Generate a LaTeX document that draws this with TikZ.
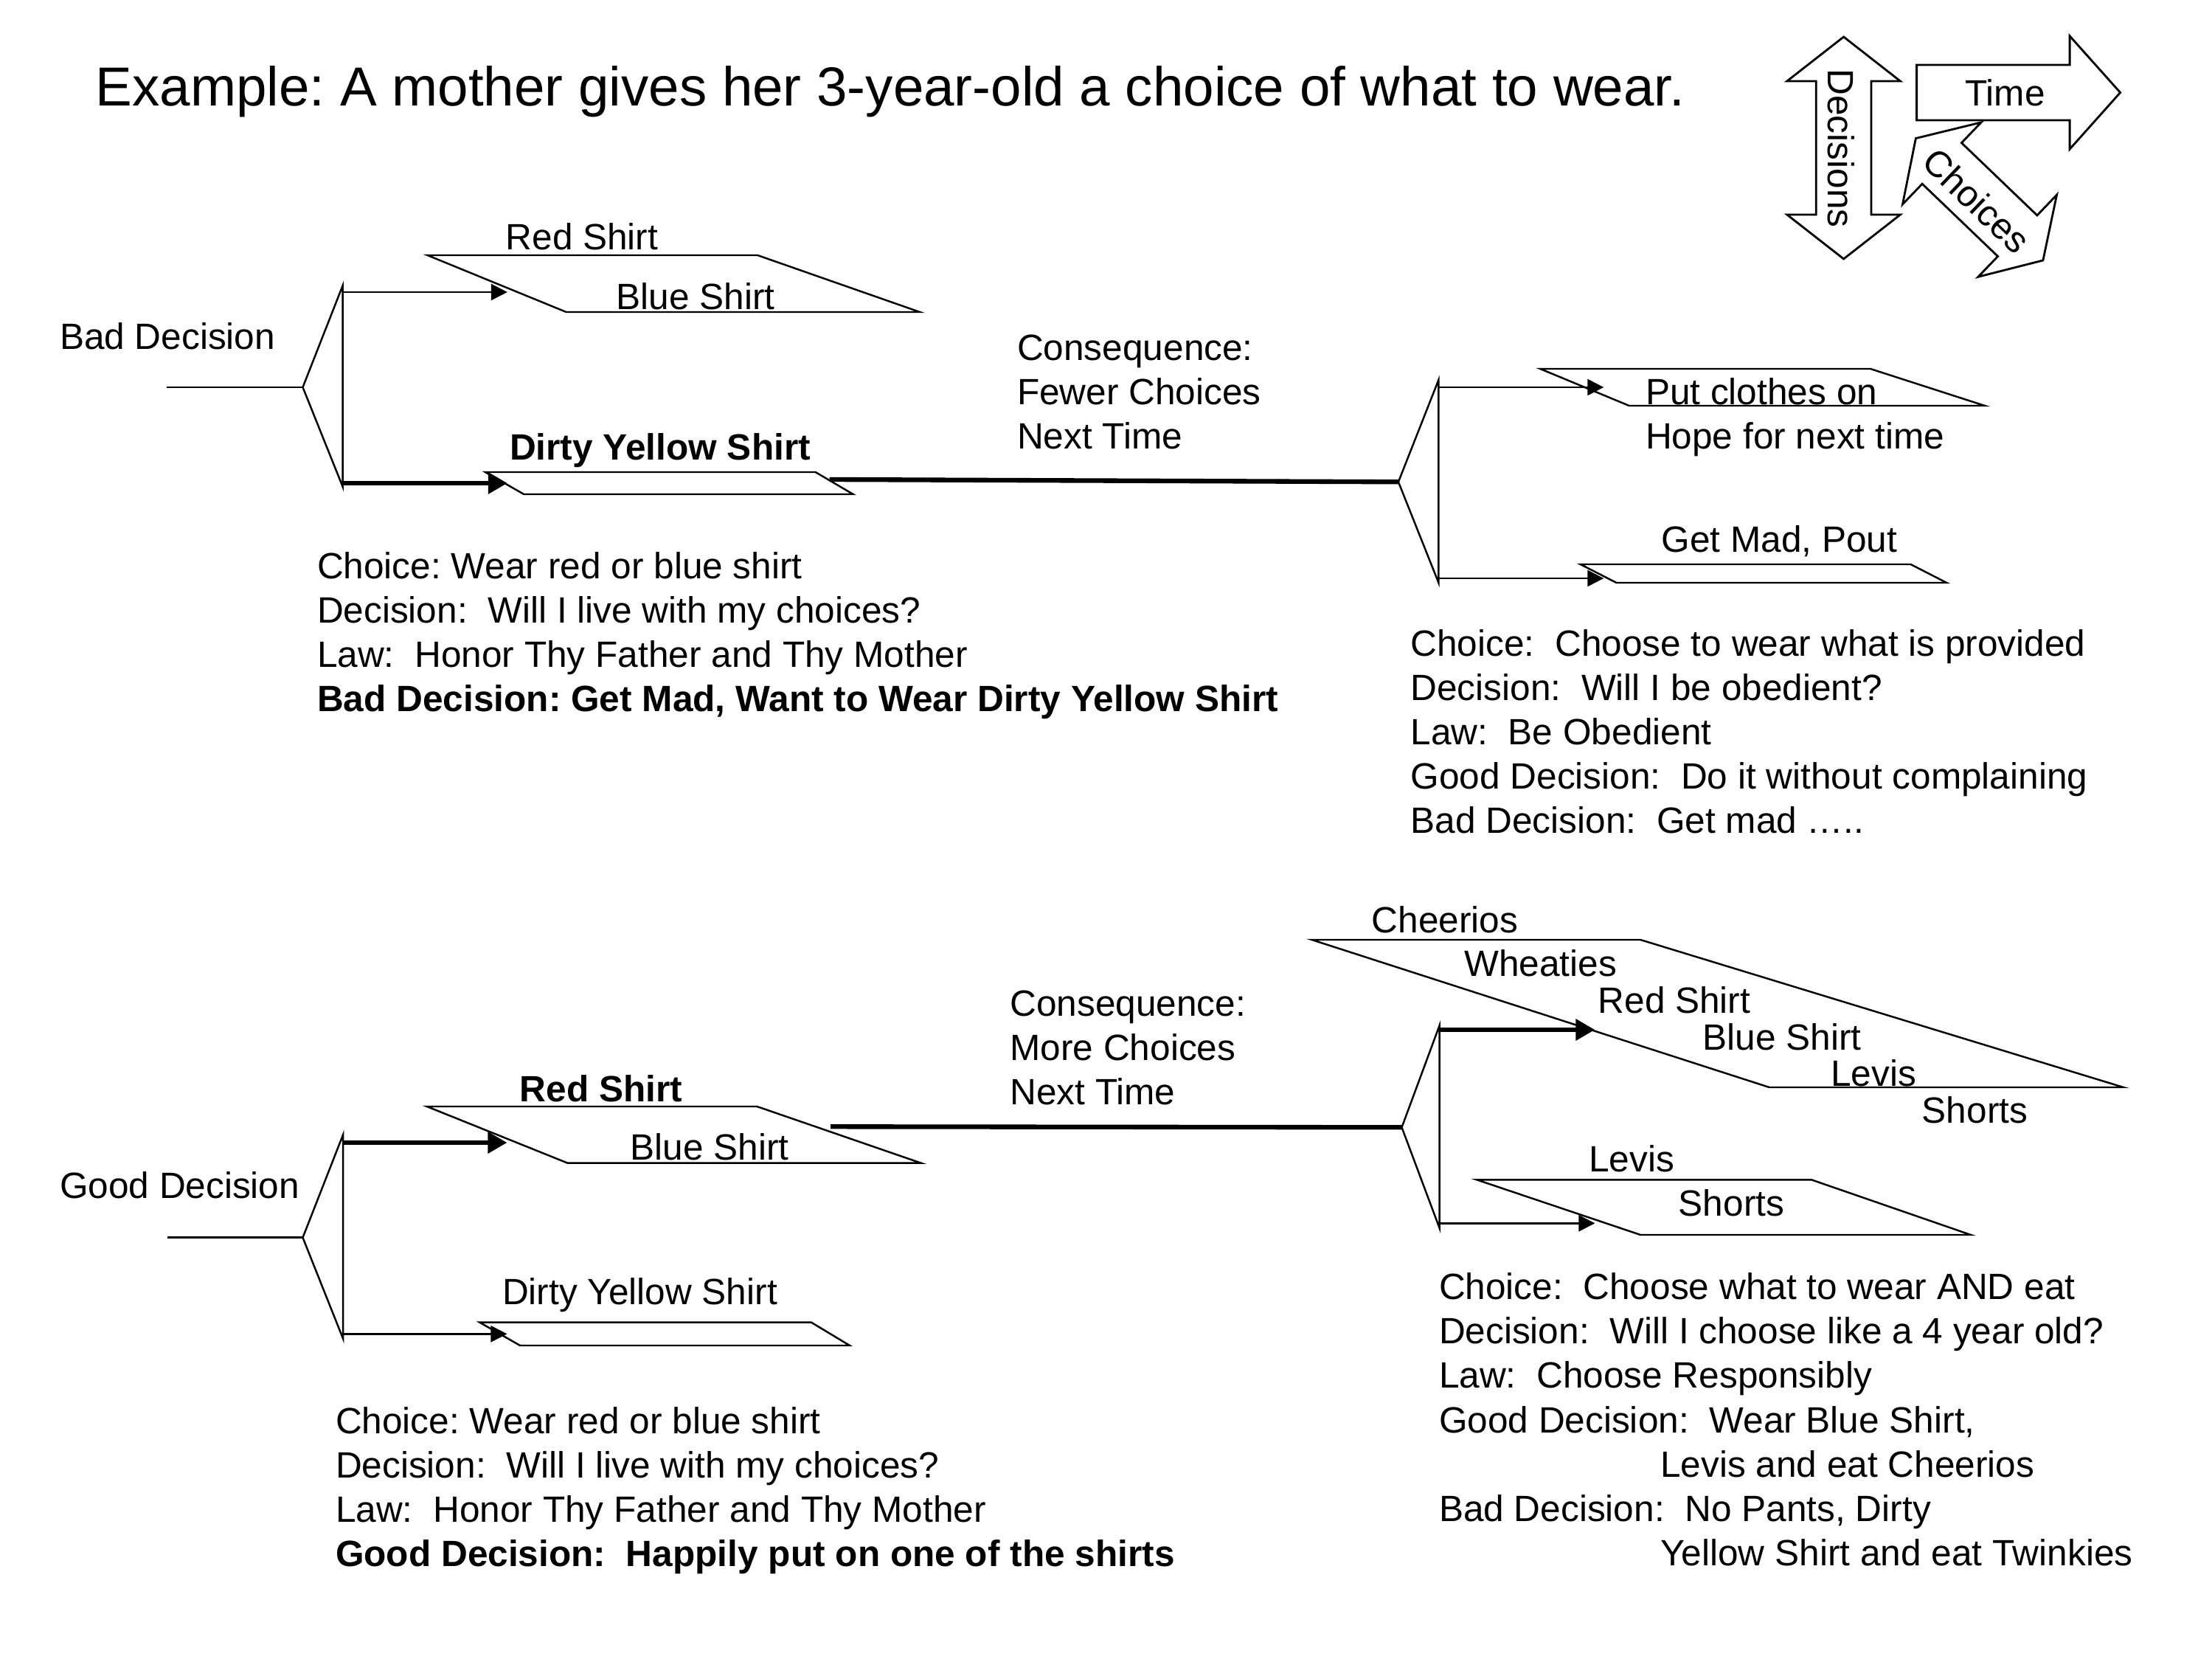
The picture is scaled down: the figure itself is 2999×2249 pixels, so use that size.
\documentclass[tikz,border=0pt]{standalone}
\usepackage{fontspec}
\setmainfont{Liberation Sans}
\usetikzlibrary{arrows.meta}
\frenchspacing
\begin{document}
\begin{tikzpicture}[x=0.01cm, y=-0.01cm,
  txt/.style={font=\fontsize{14.1}{17.07}\selectfont, inner sep=0pt, outer sep=0pt},
  blk/.style={txt, align=left, anchor=north west},
  lbl/.style={txt, anchor=base},
  thinln/.style={line width=0.7pt, line join=miter},
  thickln/.style={line width=1.8pt},
  para/.style={line width=0.7pt, line join=miter},
  tarrow/.style={thinln, -{Triangle[length=0.22cm,width=0.22cm]}},
  karrow/.style={thickln, -{Triangle[length=0.26cm,width=0.28cm]}},
  legend/.style={line width=0.8pt, line join=miter, fill=white},
]
\useasboundingbox (0,0) rectangle (2999,2249);

% title
\node[font=\fontsize{21.2}{25}\selectfont, anchor=base west, inner sep=0pt] (title) at (129,143.5) {Example: A mother gives her 3-year-old a choice of what to wear.};

% ---------- legend ----------
\begin{scope}[shift={(2499.6,200.5)}, rotate=-90]
  \draw[legend] (-150.5,0) -- (-90.5,-76.8) -- (-90.5,-37.3) -- (90.5,-37.3) -- (90.5,-76.8) -- (150.5,0) -- (90.5,76.8) -- (90.5,37.3) -- (-90.5,37.3) -- (-90.5,76.8) -- cycle;
\end{scope}
\node[txt, rotate=-90] (decisions) at (2496,201) {Decisions};
\draw[legend] (2598.6,88) -- (2806.1,88) -- (2806.1,48.8) -- (2874.6,125.5) -- (2806.1,202.2) -- (2806.1,163) -- (2598.6,163) -- cycle;
\node[txt] (time) at (2718.6,126) {Time};
\begin{scope}[shift={(2684,270.6)}, rotate=-43.8]
  \draw[legend] (-120,0) -- (-71,-77) -- (-71,-38.5) -- (71,-38.5) -- (71,-77) -- (119,0) -- (71,77) -- (71,38.5) -- (-71,38.5) -- (-71,77) -- cycle;
\end{scope}
\node[txt, rotate=-43.8] (choices) at (2680,272) {Choices};

% ---------- top tree ----------
\node[txt, anchor=base west] (baddec) at (81,474) {Bad Decision};
\coordinate (tin) at (225.5,525);
\coordinate (tap) at (410.5,525);
\coordinate (ttop) at (464.7,387);
\coordinate (tbot) at (464.7,660);
\coordinate (tu) at (464.7,396);
\coordinate (tl) at (464.7,655);
\coordinate (p1in) at (687.9,396);
\coordinate (p2in) at (687.9,655);
\draw[thinln] (tin) -- (tap);
\draw[thinln] (ttop) -- (tap) -- (tbot) -- cycle;
\draw[para] (579.5,346) -- (1027,346) -- (1247,423) -- (767.6,423) -- cycle;
\draw[para] (657.9,640) -- (1105.6,640) -- (1156.6,670) -- (710.2,670) -- cycle;
\draw[tarrow] (tu) -- (p1in);
\draw[karrow] (tl) -- (p2in);
\node[lbl] (tred) at (789,339) {Red Shirt};
\node[lbl] (tblue) at (943,420) {Blue Shirt};
\node[lbl, font=\fontsize{14.1}{17.07}\selectfont\bfseries] (tdys) at (895,624) {Dirty Yellow Shirt};
\node[blk] (tcons) at (1379,454) {Consequence:\\Fewer Choices\\Next Time};
\node[blk] (ttext) at (430,748.5) {Choice: Wear red or blue shirt\\Decision:\ \ Will I live with my choices?\\Law:\ \ Honor Thy Father and Thy Mother\\\textbf{Bad Decision: Get Mad, Want to Wear Dirty Yellow Shirt}};

\coordinate (p2out) at (1124.7,650);
\coordinate (rap) at (1895.9,653.3);
\coordinate (rtop) at (1950.4,515);
\coordinate (rbot) at (1950.4,790);
\coordinate (ru) at (1950.4,525);
\coordinate (rl) at (1950.4,784);
\coordinate (p3in) at (2174.3,525);
\coordinate (p4in) at (2174.3,784);
\draw[thickln] (p2out) -- (rap);
\draw[thinln] (rtop) -- (rap) -- (rbot) -- cycle;
\draw[para] (2088.2,500) -- (2535.9,500) -- (2690.9,550) -- (2208.7,550) -- cycle;
\draw[para] (2142.7,765) -- (2590.4,765) -- (2639.2,790) -- (2191.5,790) -- cycle;
\draw[tarrow] (ru) -- (p3in);
\draw[tarrow] (rl) -- (p4in);
\node[blk] (tput) at (2231,513) {Put clothes on\\Hope for next time};
\node[lbl] (tmad) at (2412.5,749) {Get Mad, Pout};
\node[blk] (rtext) at (1912.6,853.5) {Choice:\ \ Choose to wear what is provided\\Decision:\ \ Will I be obedient?\\Law:\ \ Be Obedient\\Good Decision:\ \ Do it without complaining\\Bad Decision:\ \ Get mad …..};

% ---------- bottom tree ----------
\node[txt, anchor=base west] (gooddec) at (81,1624) {Good Decision};
\coordinate (bin) at (226.7,1677.7);
\coordinate (bap) at (410.5,1677.7);
\coordinate (btop) at (465.2,1538);
\coordinate (bbot) at (465.2,1815);
\coordinate (bu) at (465.2,1549);
\coordinate (bl) at (465.2,1808.3);
\coordinate (p5in) at (687.5,1549);
\coordinate (p6in) at (687.5,1808.3);
\draw[thinln] (bin) -- (bap);
\draw[thinln] (btop) -- (bap) -- (bbot) -- cycle;
\draw[para] (578.8,1500) -- (1026.4,1500) -- (1248.8,1576.7) -- (769.6,1576.7) -- cycle;
\draw[para] (650.4,1792.7) -- (1100,1792.7) -- (1152,1824) -- (705,1824) -- cycle;
\draw[karrow] (bu) -- (p5in);
\draw[tarrow] (bl) -- (p6in);
\node[lbl, font=\fontsize{14.1}{17.07}\selectfont\bfseries] (bred) at (815,1493) {Red Shirt};
\node[lbl] (bblue) at (962,1572.5) {Blue Shirt};
\node[lbl] (bdys) at (867.5,1768) {Dirty Yellow Shirt};
\node[blk] (bcons) at (1369.4,1343) {Consequence:\\More Choices\\Next Time};
\node[blk] (btext) at (455,1907.5) {Choice: Wear red or blue shirt\\Decision:\ \ Will I live with my choices?\\Law:\ \ Honor Thy Father and Thy Mother\\\textbf{Good Decision:\ \ Happily put on one of the shirts}};

\coordinate (p5out) at (1126,1527.3);
\coordinate (sap) at (1900.5,1528.3);
\coordinate (stop) at (1951.7,1390);
\coordinate (sbot) at (1951.7,1665);
\coordinate (su) at (1951.7,1396);
\coordinate (sl) at (1951.7,1658.3);
\coordinate (p7in) at (2162.4,1396);
\coordinate (p8in) at (2162.4,1658.3);
\draw[thickln] (p5out) -- (sap);
\draw[thinln] (stop) -- (sap) -- (sbot) -- cycle;
\draw[para] (1778.6,1274) -- (2224.1,1274) -- (2878.9,1474) -- (2398.7,1474) -- cycle;
\draw[para] (2002.1,1599.3) -- (2455.9,1599.3) -- (2671.9,1674) -- (2224.1,1674) -- cycle;
\draw[karrow] (su) -- (p7in);
\draw[tarrow] (sl) -- (p8in);
\node[lbl] (bcheer) at (1959,1264.5) {Cheerios};
\node[lbl] (bwheat) at (2088.7,1323.5) {Wheaties};
\node[lbl] (bred2) at (2270,1373.5) {Red Shirt};
\node[lbl] (bblue2) at (2416,1423.5) {Blue Shirt};
\node[lbl] (blevis) at (2540,1472.5) {Levis};
\node[lbl] (bshorts) at (2677.5,1522.5) {Shorts};
\node[lbl] (blevis2) at (2212,1588) {Levis};
\node[lbl] (bshorts2) at (2347.5,1648) {Shorts};
\node[blk] (stext) at (1951,1726) {Choice:\ \ Choose what to wear AND eat\\Decision:\ \ Will I choose like a 4 year old?\\Law:\ \ Choose Responsibly\\Good Decision:\ \ Wear Blue Shirt,\\\hspace*{3cm}Levis and eat Cheerios\\Bad Decision:\ \ No Pants, Dirty\\\hspace*{3cm}Yellow Shirt and eat Twinkies};
\end{tikzpicture}
\end{document}
